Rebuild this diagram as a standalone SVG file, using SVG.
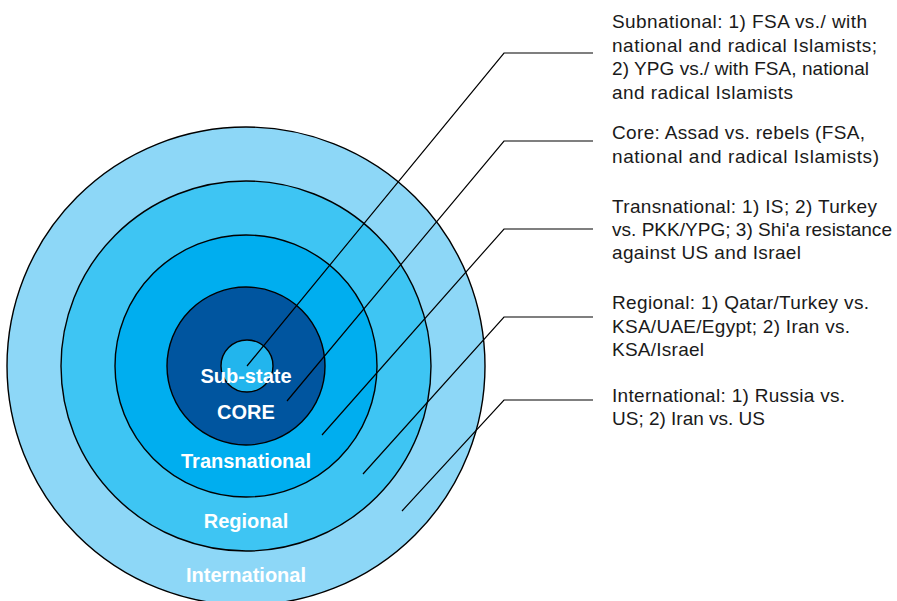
<svg xmlns="http://www.w3.org/2000/svg" width="897" height="601" viewBox="0 0 897 601">
<style>
.ring{stroke:#000;stroke-width:1.4}
.lbl{font-family:"Liberation Sans",Arial,sans-serif;font-weight:bold;font-size:20px;fill:#fff;text-anchor:middle}
.txt{font-family:"Liberation Sans",Arial,sans-serif;font-size:19px;fill:#1a1a1a}
.lead{fill:none;stroke:#000;stroke-width:1.2}
</style>
<rect width="897" height="601" fill="#fff"/>
<g id="international"><circle class="ring" cx="246" cy="366" r="239" fill="#8dd7f7"/><text class="lbl" x="246" y="582">International</text></g>
<g id="regional"><circle class="ring" cx="246" cy="366" r="185" fill="#3ec5f3"/><text class="lbl" x="246" y="528">Regional</text></g>
<g id="transnational"><circle class="ring" cx="246" cy="366" r="131" fill="#00aeef"/><text class="lbl" x="246" y="468">Transnational</text></g>
<g id="core"><circle class="ring" cx="246" cy="366" r="79" fill="#00559f"/><text class="lbl" x="246" y="419">CORE</text></g>
<g id="substate"><circle class="ring" cx="247" cy="366" r="26" fill="#22b5ed"/><text class="lbl" x="246" y="383">Sub-state</text></g>
<g id="connectors">
<polyline class="lead" points="593,53 504,53 247,366"/>
<polyline class="lead" points="593,141 504,141 287,401"/>
<polyline class="lead" points="593,229 504,229 322,435"/>
<polyline class="lead" points="593,317 504,317 363,474"/>
<polyline class="lead" points="593,400 504,400 402,511"/>
</g>
<g id="note-subnational"><text class="txt" x="612" y="28" textLength="255" lengthAdjust="spacing">Subnational: 1) FSA vs./ with</text><text class="txt" x="612" y="52" textLength="265" lengthAdjust="spacing">national and radical Islamists;</text><text class="txt" x="612" y="75" textLength="257" lengthAdjust="spacing">2) YPG vs./ with FSA, national</text><text class="txt" x="612" y="99" textLength="181" lengthAdjust="spacing">and radical Islamists</text></g>
<g id="note-core"><text class="txt" x="612" y="139" textLength="253" lengthAdjust="spacing">Core: Assad vs. rebels (FSA,</text><text class="txt" x="612" y="163" textLength="267" lengthAdjust="spacing">national and radical Islamists)</text></g>
<g id="note-transnational"><text class="txt" x="612" y="213" textLength="265" lengthAdjust="spacing">Transnational: 1) IS; 2) Turkey</text><text class="txt" x="612" y="236" textLength="280" lengthAdjust="spacingAndGlyphs">vs. PKK/YPG; 3) Shi'a resistance</text><text class="txt" x="612" y="259" textLength="189" lengthAdjust="spacing">against US and Israel</text></g>
<g id="note-regional"><text class="txt" x="612" y="309" textLength="257" lengthAdjust="spacing">Regional: 1) Qatar/Turkey vs.</text><text class="txt" x="612" y="333" textLength="238" lengthAdjust="spacing">KSA/UAE/Egypt; 2) Iran vs.</text><text class="txt" x="612" y="356" textLength="92" lengthAdjust="spacing">KSA/Israel</text></g>
<g id="note-international"><text class="txt" x="612" y="402" textLength="233" lengthAdjust="spacing">International: 1) Russia vs.</text><text class="txt" x="612" y="425" textLength="153" lengthAdjust="spacing">US; 2) Iran vs. US</text></g>
</svg>
